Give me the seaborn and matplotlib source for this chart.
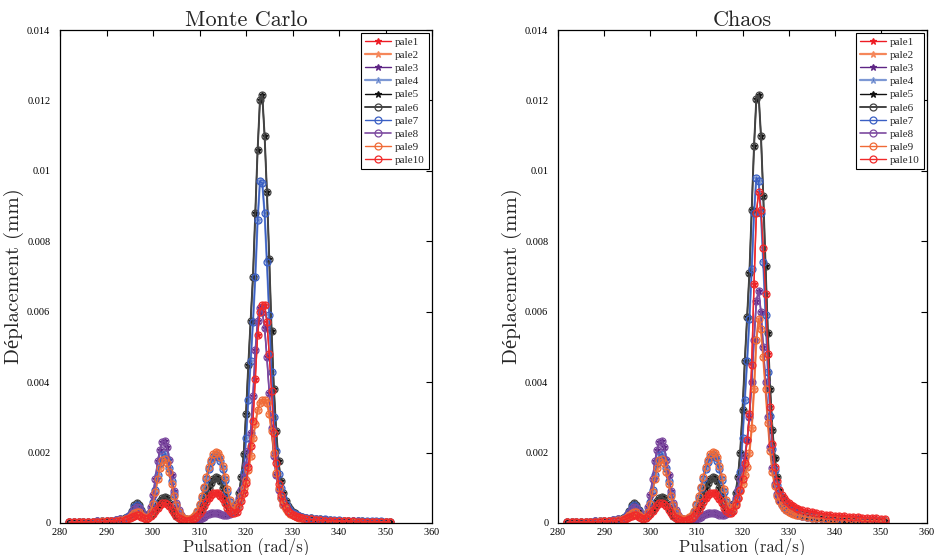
import numpy as np
import pandas as pd
import matplotlib
matplotlib.use("Agg")
import matplotlib.pyplot as plt
import seaborn as sns

# ---------------- data (displacement in micrometres = 1e-3 mm) ----------------
freq = [282, 283, 284, 285, 286, 287, 288, 289, 290, 291, 292, 293,
        294, 294.5, 295, 295.5, 296, 296.5, 297, 297.5, 298, 298.5, 299, 299.5,
        300, 300.5, 301, 301.5, 302, 302.5, 303, 303.5, 304, 304.5, 305, 305.5,
        306, 306.5, 307, 307.5, 308, 308.5, 309, 309.5, 310, 310.5, 311, 311.5,
        312, 312.5, 313, 313.5, 314, 314.5, 315, 315.5, 316, 316.5, 317, 317.5,
        318, 318.5, 319, 319.5, 320, 320.5, 321, 321.5, 322, 322.5, 323, 323.5,
        324, 324.5, 325, 325.5, 326, 326.5, 327, 327.5, 328, 328.5, 329, 329.5,
        330, 330.5, 331, 331.5,
        332, 333, 334, 335, 336, 337, 338, 339, 340, 341, 342, 343, 344, 345,
        346, 347, 348, 349, 350, 351]

# low-frequency part (282 -> 317.5), identical in both panels
low_black = [0.03, 0.03, 0.03, 0.04, 0.04, 0.04, 0.05, 0.05, 0.06, 0.07, 0.08, 0.10,
             0.13, 0.17, 0.24, 0.35, 0.52, 0.57, 0.50, 0.36, 0.22, 0.15, 0.16, 0.22,
             0.30, 0.40, 0.52, 0.63, 0.72, 0.75, 0.70, 0.58, 0.44, 0.30, 0.20, 0.14,
             0.10, 0.08, 0.07, 0.07, 0.08, 0.10, 0.14, 0.20, 0.30, 0.45, 0.62, 0.82,
             1.00, 1.15, 1.26, 1.30, 1.27, 1.18, 1.00, 0.78, 0.55, 0.38, 0.30, 0.35]
low_blue = [0.03, 0.03, 0.03, 0.04, 0.04, 0.04, 0.05, 0.05, 0.06, 0.07, 0.08, 0.10,
            0.12, 0.16, 0.22, 0.32, 0.45, 0.50, 0.45, 0.33, 0.21, 0.16, 0.20, 0.35,
            0.60, 0.95, 1.35, 1.70, 1.92, 1.95, 1.82, 1.55, 1.20, 0.82, 0.52, 0.32,
            0.20, 0.13, 0.10, 0.09, 0.10, 0.14, 0.20, 0.32, 0.50, 0.72, 0.98, 1.25,
            1.52, 1.74, 1.88, 1.92, 1.88, 1.75, 1.52, 1.22, 0.88, 0.60, 0.42, 0.38]
low_purple = [0.03, 0.03, 0.03, 0.04, 0.04, 0.04, 0.05, 0.05, 0.06, 0.07, 0.08, 0.10,
              0.12, 0.15, 0.20, 0.29, 0.40, 0.45, 0.42, 0.32, 0.21, 0.17, 0.25, 0.45,
              0.80, 1.25, 1.75, 2.08, 2.30, 2.32, 2.15, 1.80, 1.35, 0.92, 0.58, 0.36,
              0.22, 0.14, 0.10, 0.08, 0.07, 0.07, 0.08, 0.09, 0.11, 0.14, 0.18, 0.22,
              0.25, 0.27, 0.28, 0.28, 0.27, 0.26, 0.24, 0.22, 0.22, 0.25, 0.32, 0.42]
low_orange = [0.02, 0.02, 0.03, 0.03, 0.03, 0.04, 0.04, 0.05, 0.05, 0.06, 0.07, 0.08,
              0.10, 0.12, 0.16, 0.22, 0.29, 0.32, 0.30, 0.24, 0.17, 0.14, 0.18, 0.32,
              0.55, 0.88, 1.25, 1.57, 1.78, 1.82, 1.70, 1.45, 1.12, 0.78, 0.50, 0.30,
              0.19, 0.13, 0.10, 0.10, 0.11, 0.16, 0.23, 0.35, 0.53, 0.76, 1.02, 1.30,
              1.58, 1.80, 1.97, 2.03, 2.00, 1.87, 1.62, 1.32, 0.96, 0.66, 0.45, 0.36]
low_red = [0.02, 0.02, 0.02, 0.03, 0.03, 0.03, 0.04, 0.04, 0.05, 0.05, 0.06, 0.07,
           0.08, 0.10, 0.13, 0.17, 0.21, 0.23, 0.22, 0.18, 0.14, 0.12, 0.14, 0.19,
           0.26, 0.34, 0.43, 0.51, 0.57, 0.58, 0.55, 0.47, 0.37, 0.27, 0.19, 0.13,
           0.10, 0.08, 0.07, 0.07, 0.08, 0.10, 0.14, 0.19, 0.27, 0.37, 0.49, 0.61,
           0.72, 0.80, 0.85, 0.86, 0.84, 0.78, 0.68, 0.56, 0.43, 0.33, 0.27, 0.27]

# main resonance (318 -> 351), Monte Carlo
mc_black = [0.55, 0.85, 1.30, 1.95, 3.10, 4.50, 5.75, 7.00, 8.80, 10.6, 12.0, 12.15,
            11.0, 9.40, 7.50, 5.45, 3.80, 2.60, 1.75, 1.20, 0.85, 0.62, 0.48, 0.39,
            0.32, 0.27, 0.23, 0.20,
            0.18, 0.15, 0.13, 0.11, 0.10, 0.09, 0.08, 0.07, 0.07, 0.06, 0.06, 0.05,
            0.05, 0.05, 0.04, 0.04, 0.04, 0.04, 0.03, 0.03]
mc_blue = [0.45, 0.65, 0.95, 1.45, 2.40, 3.50, 4.60, 5.70, 7.00, 8.60, 9.70, 9.65,
           8.80, 7.40, 5.90, 4.30, 3.00, 2.05, 1.40, 0.98, 0.72, 0.55, 0.43, 0.35,
           0.29, 0.25, 0.22, 0.19,
           0.17, 0.15, 0.13, 0.12, 0.11, 0.10, 0.09, 0.08, 0.08, 0.07, 0.07, 0.06,
           0.06, 0.06, 0.05, 0.05, 0.05, 0.05, 0.04, 0.04]
mc_purple = [0.52, 0.70, 0.95, 1.30, 1.65, 2.05, 2.55, 3.60, 4.90, 5.75, 6.10, 6.00,
             5.55, 4.70, 3.70, 2.70, 1.90, 1.35, 0.95, 0.70, 0.52, 0.42, 0.34, 0.29,
             0.25, 0.22, 0.19, 0.17,
             0.15, 0.13, 0.11, 0.10, 0.09, 0.08, 0.07, 0.07, 0.06, 0.06, 0.05, 0.05,
             0.05, 0.04, 0.04, 0.04, 0.04, 0.03, 0.03, 0.03]
mc_orange = [0.45, 0.60, 0.78, 1.00, 1.22, 1.50, 1.90, 2.40, 2.80, 3.20, 3.40, 3.50,
             3.50, 3.40, 3.10, 2.60, 2.00, 1.42, 1.00, 0.72, 0.52, 0.40, 0.31, 0.26,
             0.22, 0.19, 0.17, 0.15,
             0.13, 0.11, 0.10, 0.09, 0.08, 0.07, 0.06, 0.06, 0.05, 0.05, 0.05, 0.04,
             0.04, 0.04, 0.04, 0.03, 0.03, 0.03, 0.03, 0.03]
mc_red = [0.32, 0.45, 0.62, 0.85, 1.15, 1.60, 2.20, 2.90, 4.10, 5.35, 6.00, 6.20,
          6.20, 5.70, 4.80, 3.75, 2.55, 1.70, 1.12, 0.80, 0.60, 0.45, 0.35, 0.29,
          0.24, 0.21, 0.18, 0.16,
          0.14, 0.12, 0.10, 0.09, 0.08, 0.07, 0.07, 0.06, 0.06, 0.05, 0.05, 0.05,
          0.04, 0.04, 0.04, 0.04, 0.03, 0.03, 0.03, 0.03]

# main resonance (318 -> 351), Chaos
ch_black = [0.55, 0.85, 1.30, 2.00, 3.20, 4.60, 5.85, 7.10, 8.90, 10.7, 12.05, 12.15,
            11.0, 9.30, 7.30, 5.40, 3.80, 2.65, 1.85, 1.30, 0.95, 0.72, 0.58, 0.48,
            0.41, 0.36, 0.32, 0.29,
            0.26, 0.22, 0.19, 0.17, 0.15, 0.14, 0.13, 0.12, 0.11, 0.10, 0.09, 0.09,
            0.08, 0.08, 0.07, 0.07, 0.07, 0.06, 0.06, 0.06]
ch_blue = [0.45, 0.65, 0.95, 1.45, 2.40, 3.50, 4.60, 5.80, 7.20, 8.80, 9.80, 9.70,
           8.80, 7.40, 5.90, 4.30, 3.05, 2.10, 1.50, 1.08, 0.82, 0.64, 0.52, 0.44,
           0.38, 0.34, 0.30, 0.27,
           0.25, 0.21, 0.18, 0.16, 0.15, 0.14, 0.13, 0.12, 0.11, 0.10, 0.09, 0.09,
           0.08, 0.08, 0.07, 0.07, 0.07, 0.06, 0.06, 0.06]
ch_purple = [0.52, 0.70, 0.95, 1.25, 1.55, 1.90, 2.35, 3.00, 4.00, 5.20, 6.30, 6.60,
             6.00, 5.00, 4.00, 3.00, 2.15, 1.55, 1.10, 0.82, 0.64, 0.52, 0.44, 0.38,
             0.33, 0.30, 0.27, 0.25,
             0.23, 0.20, 0.17, 0.15, 0.14, 0.13, 0.12, 0.11, 0.10, 0.09, 0.09, 0.08,
             0.08, 0.07, 0.07, 0.07, 0.06, 0.06, 0.06, 0.05]
ch_orange = [0.45, 0.58, 0.72, 0.90, 1.10, 1.35, 1.60, 2.00, 2.70, 3.80, 5.20, 5.80,
             5.50, 4.70, 3.80, 2.85, 2.05, 1.45, 1.05, 0.78, 0.62, 0.50, 0.42, 0.36,
             0.32, 0.29, 0.26, 0.24,
             0.22, 0.19, 0.16, 0.15, 0.14, 0.13, 0.12, 0.11, 0.10, 0.09, 0.09, 0.08,
             0.08, 0.07, 0.07, 0.07, 0.06, 0.06, 0.06, 0.05]
ch_red = [0.35, 0.50, 0.70, 0.95, 1.25, 1.70, 2.35, 3.10, 4.50, 6.80, 8.80, 9.40,
          8.90, 7.80, 6.50, 4.80, 3.30, 2.25, 1.60, 1.20, 0.95, 0.80, 0.70, 0.62,
          0.56, 0.51, 0.47, 0.44,
          0.41, 0.36, 0.33, 0.30, 0.28, 0.26, 0.24, 0.22, 0.21, 0.20, 0.19, 0.18,
          0.17, 0.16, 0.15, 0.14, 0.14, 0.13, 0.12, 0.12]

labels = ["pale1", "pale2", "pale3", "pale4", "pale5",
          "pale6", "pale7", "pale8", "pale9", "pale10"]
mc_profiles = {"red": low_red + mc_red, "orange": low_orange + mc_orange,
               "purple": low_purple + mc_purple, "blue": low_blue + mc_blue,
               "black": low_black + mc_black}
ch_profiles = {"red": low_red + ch_red, "orange": low_orange + ch_orange,
               "purple": low_purple + ch_purple, "blue": low_blue + ch_blue,
               "black": low_black + ch_black}
series_profile = ["red", "orange", "purple", "blue", "black",
                  "black", "blue", "purple", "orange", "red"]

# ---------------- styles ----------------
styles = [
    dict(color="#ed1c24", marker="*", ms=4.5, mfc="#ed1c24", lw=1.0),
    dict(color="#f5875a", marker="*", ms=4.5, mfc="#f5875a", lw=1.6),
    dict(color="#5e2585", marker="*", ms=4.5, mfc="#5e2585", lw=1.0),
    dict(color="#7d98d4", marker="*", ms=4.5, mfc="#4a6cc0", lw=1.6),
    dict(color="#111111", marker="*", ms=4.5, mfc="#111111", lw=1.0),
    dict(color="#444444", marker="o", ms=5, mfc="none", lw=1.4),
    dict(color="#3a5fc4", marker="o", ms=5, mfc="none", lw=1.0),
    dict(color="#7d4aa0", marker="o", ms=5, mfc="none", lw=1.2),
    dict(color="#f06a36", marker="o", ms=5, mfc="none", lw=1.0),
    dict(color="#f02a2a", marker="o", ms=5, mfc="none", lw=1.0),
]

sns.set_style("white")
plt.rcParams["font.family"] = ["Liberation Serif", "DejaVu Serif"]
plt.rcParams["axes.formatter.use_mathtext"] = True
cm_font = ["cmr10", "Liberation Serif"]

fig = plt.figure(figsize=(9.39, 5.55), dpi=100)
ax1 = fig.add_axes([60 / 939, 32 / 555, 372 / 939, 493 / 555])
ax2 = fig.add_axes([558 / 939, 32 / 555, 369 / 939, 493 / 555])

x_arr = np.array(freq)
for ax, profiles, title in [(ax1, mc_profiles, "Monte Carlo"), (ax2, ch_profiles, "Chaos")]:
    for lab, prof, st in zip(labels, series_profile, styles):
        y_mm = np.array(profiles[prof]) / 1000.0
        sns.lineplot(x=x_arr, y=y_mm, ax=ax, color=st["color"], lw=st["lw"],
                     marker=st["marker"], markersize=st["ms"],
                     markerfacecolor=st["mfc"], mec=st["color"], mew=0.9,
                     label=lab, sort=False, estimator=None)
    ax.set_xlim(280, 360)
    ax.set_ylim(0, 0.014)
    ax.set_xticks(np.arange(280, 361, 10))
    ax.set_yticks(np.arange(0, 0.0141, 0.002))
    ax.set_yticklabels(["0", "0.002", "0.004", "0.006", "0.008", "0.01", "0.012", "0.014"])
    ax.tick_params(direction="in", length=4, width=0.8, top=True, right=True,
                   labelsize=7.5, colors="black")
    ax.tick_params(axis="x", pad=2)
    ax.tick_params(axis="y", pad=7)
    for sp in ax.spines.values():
        sp.set_visible(True)
        sp.set_color("black")
        sp.set_linewidth(0.9)
    ax.set_title(title, fontsize=16, pad=3, family=cm_font)
    ax.set_xlabel("Pulsation (rad/s)", fontsize=12, labelpad=0, family=cm_font)
    ax.set_ylabel("Déplacement (mm)", fontsize=15, labelpad=2, family=cm_font)
    leg = ax.legend(loc="upper right", fontsize=8, frameon=True, fancybox=False,
                    edgecolor="black", framealpha=1, borderpad=0.35, labelspacing=0.3,
                    handlelength=2.3, handletextpad=0.4, borderaxespad=0.3)
    leg.get_frame().set_linewidth(0.8)
    ax.grid(False)

fig.savefig("out.png", dpi=100)
